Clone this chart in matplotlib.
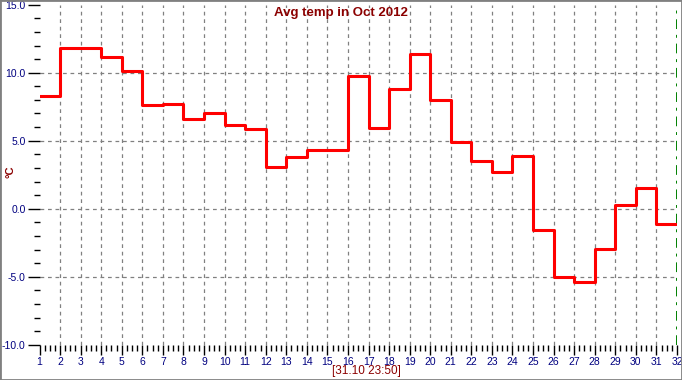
import numpy as np
import matplotlib.pyplot as plt
from matplotlib.ticker import MultipleLocator, FormatStrFormatter
from matplotlib.patches import Rectangle

# Daily average temperature, October 2012
days = list(range(1, 32))
temps = [8.28, 11.78, 11.78, 11.16, 10.12, 7.62, 7.71, 6.58, 7.05, 6.12,
         5.87, 3.05, 3.78, 4.3, 4.3, 9.78, 5.94, 8.8, 11.4, 7.99,
         4.91, 3.51, 2.7, 3.86, -1.53, -5.04, -5.41, -2.93, 0.27, 1.52,
         -1.14]
title = 'Avg temp in Oct 2012'
footer = '[31.10 23:50]'

navy = '#000080'
darkred = '#8b0000'

plt.rcParams['font.family'] = ['Liberation Sans', 'DejaVu Sans']

fig = plt.figure(figsize=(6.82, 3.80), dpi=100)
ax = fig.add_axes([39.5 / 682, 1 - 344.7 / 380, (677 - 39.5) / 682, (344.7 - 4.7) / 380])

x = days + [32]
y = temps + [temps[-1]]
ax.step(x, y, where='post', color='#ff0000', lw=2.2, zorder=3)

ax.set_xlim(1, 32)
ax.set_ylim(-10, 15)

ax.xaxis.set_major_locator(MultipleLocator(1))
ax.xaxis.set_minor_locator(MultipleLocator(0.25))
ax.yaxis.set_major_locator(MultipleLocator(5))
ax.yaxis.set_minor_locator(MultipleLocator(1))
ax.yaxis.set_major_formatter(FormatStrFormatter('%.1f'))

for s in ax.spines.values():
    s.set_visible(False)

ax.tick_params(axis='x', which='major', length=7, width=1, color='black',
               labelsize=7.5, labelcolor=navy, pad=1.5)
ax.tick_params(axis='x', which='minor', length=4, width=1, color='black')
ax.tick_params(axis='y', which='major', length=9, width=1, color='black',
               labelsize=7.5, labelcolor=navy, pad=1)
ax.tick_params(axis='y', which='minor', length=4, width=1, color='black')

# dashed grid
for d in range(2, 32):
    ax.axvline(d, color='#808080', lw=0.9, ls=(0, (3, 3)), zorder=1)
for v in [-5, 0, 5, 10]:
    ax.axhline(v, color='#808080', lw=0.9, ls=(0, (3, 3)), zorder=1)
ax.axvline(32, color='#008000', lw=1.4, ls=(0, (5, 3, 1.5, 3)), zorder=2)

fig.text(341 / 682, 1 - 13 / 380, title, ha='center', va='center',
         fontsize=9.5, fontweight='bold', color=darkred)
fig.text(10 / 682, 1 - 172 / 380, '°C', ha='center', va='center',
         fontsize=8, color=darkred, rotation=90, fontweight='bold')
fig.text(366 / 682, 1 - 371 / 380, footer, ha='center', va='center',
         fontsize=8.5, color=darkred)

# figure border
fig.patches.append(Rectangle((0, 0), 1, 1, transform=fig.transFigure,
                             fill=False, edgecolor='#808080', lw=2))

fig.savefig('out.png', dpi=100)
